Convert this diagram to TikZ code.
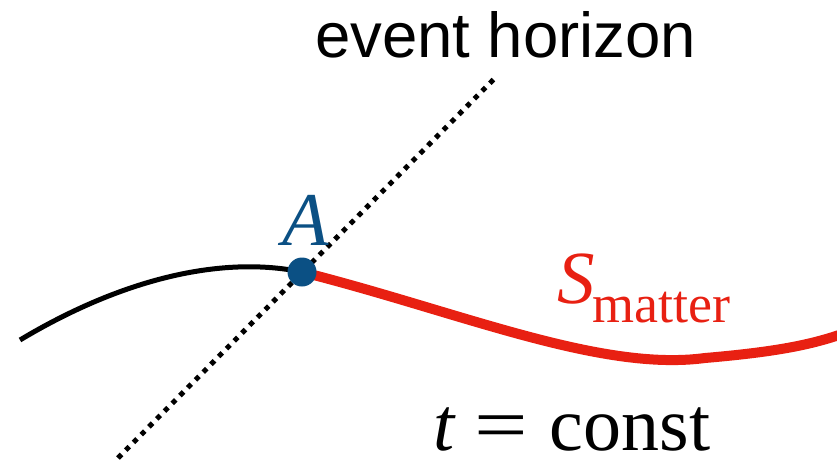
\documentclass[tikz,border=0pt]{standalone}
\usepackage{fontspec}
\setmainfont{Liberation Serif}
\newfontfamily\labelsans{Liberation Sans}
\usepackage{graphicx}
\definecolor{ptblue}{RGB}{11,80,132}
\definecolor{matred}{RGB}{232,32,18}
\tikzset{
  slice/.style={line width=5pt, black},
  matterline/.style={line width=10pt, matred},
  horizon/.style={line width=5pt, dash pattern=on 5pt off 6pt, black},
  lbl/.style={anchor=base west, inner sep=0pt, outer sep=0pt}
}
\begin{document}
\begin{tikzpicture}[x=1pt, y=-1pt]
\useasboundingbox (0,0) rectangle (837,460);
\coordinate (L) at (20,340);
\coordinate (A) at (302,272);
\coordinate (M) at (705,358);
\coordinate (R) at (842,334);
\coordinate (EHb) at (118,458);
\coordinate (EHt) at (495,78);
% event horizon
\draw[horizon] (EHb) -- (EHt);
% black slice
\draw[slice] (L) .. controls (120,280) and (220,255) .. (A);
% red matter slice
\draw[matterline] (A) .. controls (460,312) and (600,372) .. (M)
  .. controls (775,352) and (810,345) .. (R);
% point A
\fill[ptblue] (A) circle (14.5pt);
% labels
\node[lbl] (eh) at (315,58) {\labelsans\fontsize{63.5}{70}\selectfont event horizon};
\node[lbl, text=ptblue] (Alab) at (282,245) {\fontsize{76}{80}\selectfont\itshape A};
\node[lbl, text=matred] (Slab) at (557,303) {\fontsize{75}{80}\selectfont\itshape S\kern-2pt\raisebox{-19pt}{\fontsize{54}{60}\selectfont\upshape matter}};
\node[lbl] (tc) at (433,450) {\fontsize{76}{80}\selectfont\itshape t\upshape\hspace{20pt}\scalebox{1.25}[1]{=}\hspace{22pt}const};
\end{tikzpicture}
\end{document}
